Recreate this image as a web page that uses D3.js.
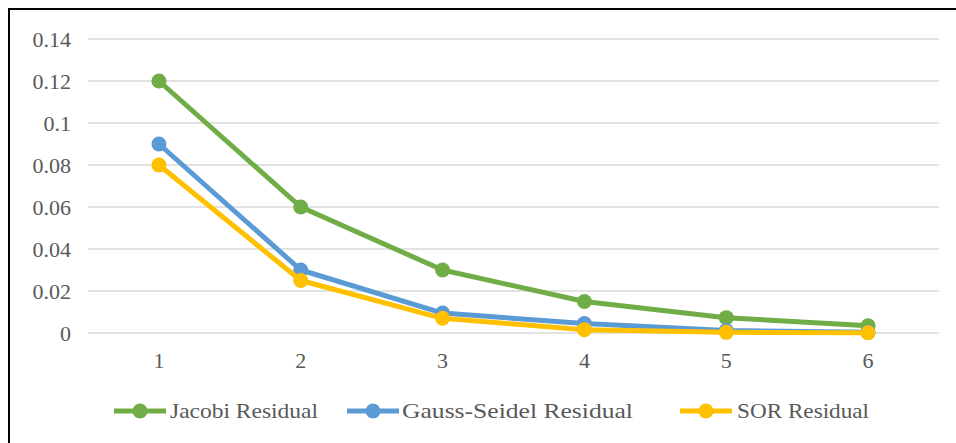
<!DOCTYPE html>
<html>
<head>
<meta charset="utf-8">
<script src="https://cdn.jsdelivr.net/npm/d3@7"></script>
<style>
  html, body { margin: 0; padding: 0; background: #ffffff; }
  svg { display: block; }
  svg text { fill: #595959; }
</style>
</head>
<body>
<svg id="chart" width="956" height="443"></svg>
<script>
// Iteration numbers on the x axis
const iterations = ["1", "2", "3", "4", "5", "6"];

// Residual after each iteration, per method
const jacobiResidual = [0.12, 0.06, 0.03, 0.015, 0.0073, 0.0034];
const gaussSeidelResidual = [0.09, 0.03, 0.0095, 0.0045, 0.0012, 0.0003];
const sorResidual = [0.08, 0.025, 0.007, 0.0016, 0.0003, 0.0001];

// y axis ticks
const yTicks = [0, 0.02, 0.04, 0.06, 0.08, 0.1, 0.12, 0.14];

const seriesNames = ["Jacobi Residual", "Gauss-Seidel Residual", "SOR Residual"];
const seriesColors = ["#70AD47", "#5B9BD5", "#FFC000"];
const seriesValues = [jacobiResidual, gaussSeidelResidual, sorResidual];

const serif = '"Liberation Serif", "Times New Roman", Times, serif';
const svg = d3.select("#chart");

// chart frame
svg.append("rect")
  .attr("x", 9).attr("y", 9)
  .attr("width", 980).attr("height", 460)
  .attr("fill", "#ffffff")
  .attr("stroke", "#000000")
  .attr("stroke-width", 2);

const plot = { left: 88, right: 939, top: 39, bottom: 333 };

const x = d3.scaleBand()
  .domain(iterations)
  .range([plot.left, plot.right]);

const y = d3.scaleLinear()
  .domain([0, 0.14])
  .range([plot.bottom, plot.top]);

// horizontal gridlines
svg.append("g")
  .selectAll("line")
  .data(yTicks)
  .join("line")
  .attr("x1", plot.left).attr("x2", plot.right)
  .attr("y1", d => y(d)).attr("y2", d => y(d))
  .attr("stroke", "#D9D9D9")
  .attr("stroke-width", 1.5);

// y axis labels
const yAxis = d3.axisLeft(y)
  .tickValues(yTicks)
  .tickSize(0)
  .tickPadding(0)
  .tickFormat(d => String(+d.toFixed(2)));
const yG = svg.append("g")
  .attr("transform", `translate(71,0)`)
  .call(yAxis)
  .attr("font-family", serif)
  .attr("font-size", 22);
yG.select(".domain").remove();
yG.selectAll("text").attr("fill", "#595959");

// x axis labels
const xAxis = d3.axisBottom(x).tickSize(0).tickPadding(0);
const xG = svg.append("g")
  .attr("transform", `translate(0,352)`)
  .call(xAxis)
  .attr("font-family", serif)
  .attr("font-size", 22);
xG.select(".domain").remove();
xG.selectAll("text").attr("fill", "#595959");

// series lines and markers
const line = d3.line()
  .x((d, i) => x(iterations[i]) + x.bandwidth() / 2)
  .y(d => y(d));

seriesValues.forEach((vals, s) => {
  const g = svg.append("g");
  g.append("path")
    .datum(vals)
    .attr("d", line)
    .attr("fill", "none")
    .attr("stroke", seriesColors[s])
    .attr("stroke-width", 5)
    .attr("stroke-linejoin", "round");
  g.selectAll("circle")
    .data(vals)
    .join("circle")
    .attr("cx", (d, i) => x(iterations[i]) + x.bandwidth() / 2)
    .attr("cy", d => y(d))
    .attr("r", 7.5)
    .attr("fill", seriesColors[s]);
});

// legend
const legendItems = [
  { lineX: 114, textX: 170, textW: 148 },
  { lineX: 347, textX: 402, textW: 231 },
  { lineX: 680, textX: 737, textW: 132 }
];
const legendY = 411;
const legend = svg.append("g")
  .attr("font-family", serif)
  .attr("font-size", 22);
legendItems.forEach((it, s) => {
  legend.append("line")
    .attr("x1", it.lineX).attr("x2", it.lineX + 52)
    .attr("y1", legendY).attr("y2", legendY)
    .attr("stroke", seriesColors[s])
    .attr("stroke-width", 5);
  legend.append("circle")
    .attr("cx", it.lineX + 26).attr("cy", legendY)
    .attr("r", 7.5)
    .attr("fill", seriesColors[s]);
  legend.append("text")
    .attr("x", it.textX).attr("y", legendY + 7)
    .attr("textLength", it.textW)
    .attr("lengthAdjust", "spacingAndGlyphs")
    .text(seriesNames[s]);
});
</script>
</body>
</html>
